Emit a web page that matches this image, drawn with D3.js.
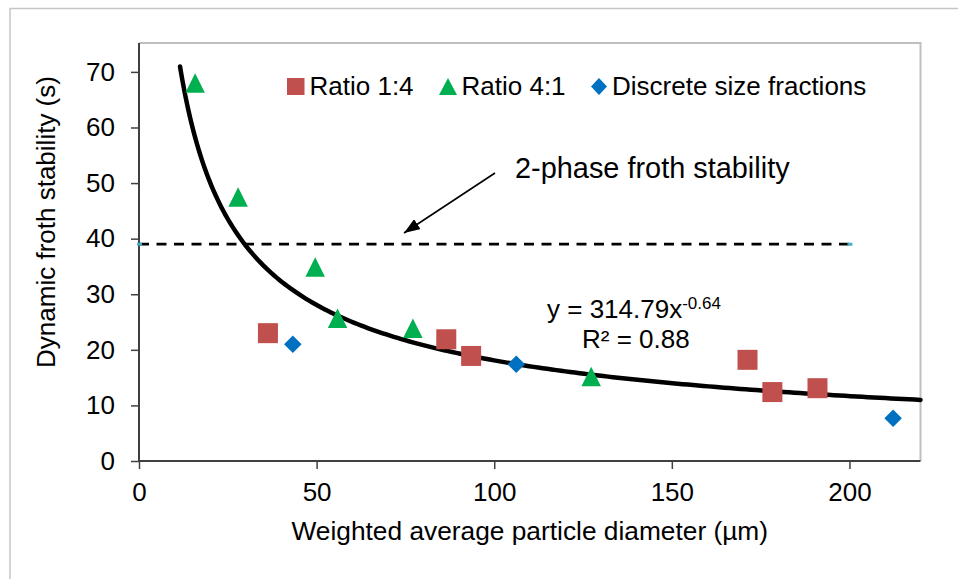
<!DOCTYPE html>
<html>
<head>
<meta charset="utf-8">
<script src="https://cdn.jsdelivr.net/npm/d3@7"></script>
<style>
	body { margin: 0; background: #fff; }
	text { font-family: "Liberation Sans", Arial, sans-serif; fill: #000; }
</style>
</head>
<body>
<svg id="chart" width="958" height="579"></svg>
<script>
// values
var ratio14X = [36.3, 86.5, 93.5, 171.3, 178.3, 191.0];
var ratio14Y = [23.0, 21.9, 18.9, 18.2, 12.4, 13.1];
var ratio41X = [15.8, 27.9, 49.6, 55.9, 77.1, 127.3];
var ratio41Y = [68.0, 47.5, 34.9, 25.7, 23.9, 15.2];
var discreteX = [43.3, 106.2, 212.3];
var discreteY = [21.0, 17.4, 7.7];
var xTicks = [0, 50, 100, 150, 200];
var yTicks = [0, 10, 20, 30, 40, 50, 60, 70];
var twoPhaseY = 39;
var twoPhaseX = [0, 200];
// power trendline as drawn
var trendA = 334, trendB = -0.633, trendFrom = 11.55, trendTo = 220;

var svg = d3.select("#chart");
var pLeft = 139, pRight = 920.5, pTop = 43, pBottom = 461;
var font = '"Liberation Sans", Arial, sans-serif';

var x = d3.scaleLinear().domain([0, 220]).range([pLeft, pRight]);
var y = d3.scaleLinear().domain([0, 75.2]).range([pBottom, pTop]);

// marker shapes (Excel style boxes)
function triPath(w, h) {
	return "M0," + (-h / 2) + "L" + (w / 2) + "," + (h / 2) + "L" + (-w / 2) + "," + (h / 2) + "Z";
}
function diaPath(w, h) {
	return "M0," + (-h / 2) + "L" + (w / 2) + ",0L0," + (h / 2) + "L" + (-w / 2) + ",0Z";
}

// outer chart border
svg.append("rect")
	.attr("x", 10).attr("y", 8.5).attr("width", 1000).attr("height", 700)
	.attr("fill", "none").attr("stroke", "#c6c6c6").attr("stroke-width", 1.5);

// plot area top/right border
svg.append("path")
	.attr("d", "M" + pLeft + "," + pTop + "H" + pRight + "V" + pBottom)
	.attr("fill", "none").attr("stroke", "#bfbfbf").attr("stroke-width", 2);

// axes
var xAxis = svg.append("g")
	.attr("transform", "translate(0," + pBottom + ")")
	.call(d3.axisBottom(x).tickValues(xTicks).tickSize(8).tickPadding(14));
var yAxis = svg.append("g")
	.attr("transform", "translate(" + pLeft + ",0)")
	.call(d3.axisLeft(y).tickValues(yTicks).tickSize(8).tickPadding(16));

[xAxis, yAxis].forEach(function(g) {
	g.select(".domain").attr("stroke", "#404040").attr("stroke-width", 2);
	g.selectAll(".tick line").attr("stroke", "#404040").attr("stroke-width", 1.5);
	g.selectAll(".tick text")
		.style("font-family", font)
		.style("font-size", "26px").attr("fill", "#000");
});
xAxis.select(".domain").attr("d", "M" + pLeft + ",0H" + pRight);
yAxis.select(".domain").attr("d", "M0," + y(0) + "V" + pTop);

// two-phase froth stability line
svg.append("line")
	.attr("x1", x(twoPhaseX[0])).attr("x2", x(twoPhaseX[1]))
	.attr("y1", y(twoPhaseY)).attr("y2", y(twoPhaseY))
	.attr("stroke", "#000").attr("stroke-width", 2.7)
	.attr("stroke-dasharray", "10,7.5");
svg.selectAll(".tp")
	.data(twoPhaseX).enter()
	.append("rect")
		.attr("x", function(d) { return x(d) - 2; })
		.attr("y", y(twoPhaseY) - 1.5)
		.attr("width", 5).attr("height", 3)
		.attr("fill", "#4bacc6");

// trendline
var trendPts = d3.range(0, 201).map(function(i) {
	var v = trendFrom + (trendTo - trendFrom) * Math.pow(i / 200, 1.6);
	return [v, trendA * Math.pow(v, trendB)];
});
svg.append("path")
	.datum(trendPts)
	.attr("d", d3.line().x(function(d) { return x(d[0]); }).y(function(d) { return y(d[1]); }))
	.attr("fill", "none").attr("stroke", "#000").attr("stroke-width", 4.5)
	.attr("stroke-linecap", "round");

var sq = d3.symbol().type(d3.symbolSquare).size(400);

svg.selectAll(".r14")
	.data(d3.zip(ratio14X, ratio14Y)).enter()
	.append("path")
		.attr("d", sq)
		.attr("transform", function(d) { return "translate(" + x(d[0]) + "," + y(d[1]) + ")"; })
		.attr("fill", "#c0504d");

svg.selectAll(".r41")
	.data(d3.zip(ratio41X, ratio41Y)).enter()
	.append("path")
		.attr("d", triPath(19.5, 19.5))
		.attr("transform", function(d) { return "translate(" + x(d[0]) + "," + y(d[1]) + ")"; })
		.attr("fill", "#00b050");

svg.selectAll(".disc")
	.data(d3.zip(discreteX, discreteY)).enter()
	.append("path")
		.attr("d", diaPath(17.5, 17.5))
		.attr("transform", function(d) { return "translate(" + x(d[0]) + "," + y(d[1]) + ")"; })
		.attr("fill", "#0070c0");

// legend
var lg = svg.append("g").style("font-size", "26px");
lg.append("rect").attr("x", 287).attr("y", 78).attr("width", 17.5).attr("height", 17).attr("fill", "#c0504d");
lg.append("text").attr("x", 309.5).attr("y", 95).text("Ratio 1:4");
lg.append("path").attr("d", triPath(18, 17))
	.attr("transform", "translate(448,86.5)").attr("fill", "#00b050");
lg.append("text").attr("x", 461.5).attr("y", 95).text("Ratio 4:1");
lg.append("path").attr("d", diaPath(16, 17))
	.attr("transform", "translate(599,86.5)").attr("fill", "#0070c0");
lg.append("text").attr("x", 612).attr("y", 95).text("Discrete size fractions");

// annotation
svg.append("defs").append("marker")
	.attr("id", "arrow").attr("viewBox", "0 0 16 12")
	.attr("refX", 16).attr("refY", 6)
	.attr("markerWidth", 16).attr("markerHeight", 12)
	.attr("markerUnits", "userSpaceOnUse")
	.attr("orient", "auto")
	.append("path").attr("d", "M0,0L16,6L0,12Z").attr("fill", "#000");
svg.append("line")
	.attr("x1", 495).attr("y1", 173).attr("x2", 404).attr("y2", 233)
	.attr("stroke", "#000").attr("stroke-width", 1.6)
	.attr("marker-end", "url(#arrow)");
svg.append("text").attr("x", 515).attr("y", 178)
	.style("font-size", "28.9px").text("2-phase froth stability");

// equation
var eq = svg.append("text").attr("x", 547).attr("y", 318).style("font-size", "26px");
eq.append("tspan").text("y = 314.79x");
eq.append("tspan").attr("dy", -9).style("font-size", "17px").text("-0.64");
svg.append("text").attr("x", 582).attr("y", 348).style("font-size", "26px").text("R² = 0.88");

// axis titles
svg.append("text")
	.attr("x", (pLeft + pRight) / 2).attr("y", 540)
	.attr("text-anchor", "middle").style("font-size", "26.3px")
	.text("Weighted average particle diameter (µm)");
svg.append("text")
	.attr("transform", "translate(55,222) rotate(-90)")
	.attr("text-anchor", "middle").style("font-size", "26px")
	.text("Dynamic froth stability (s)");
</script>
</body>
</html>
